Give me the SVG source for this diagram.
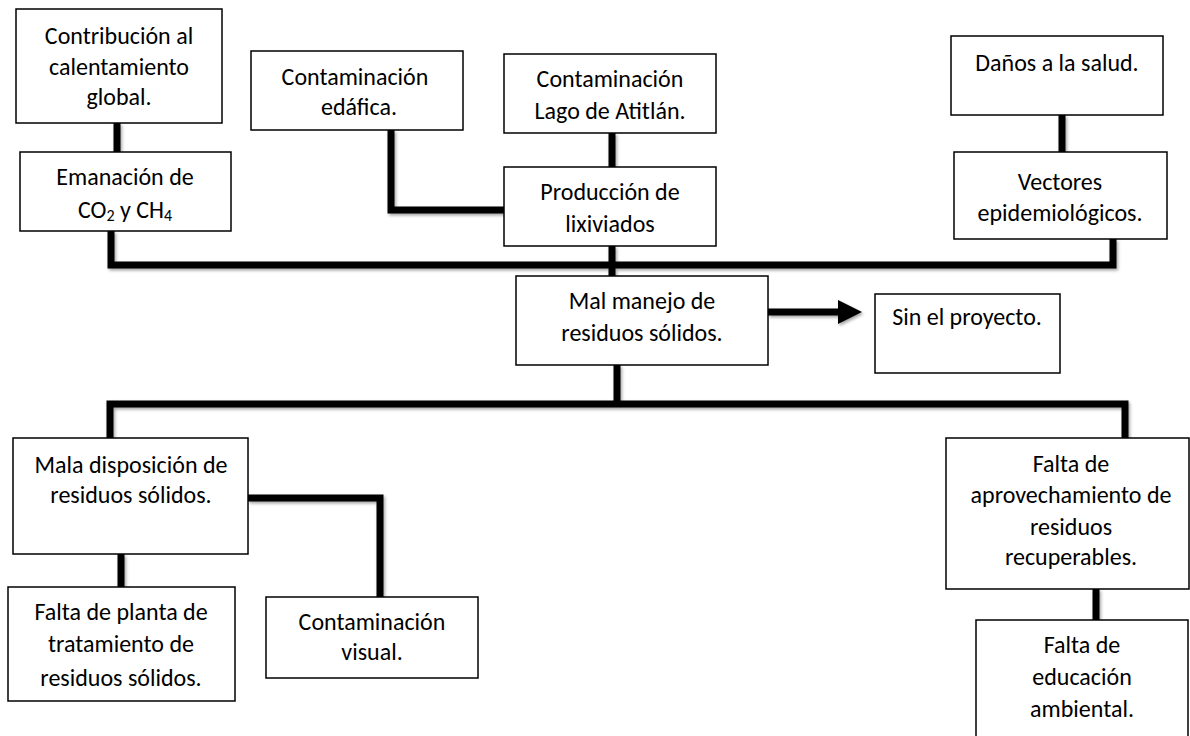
<svg xmlns="http://www.w3.org/2000/svg" width="1190" height="736" viewBox="0 0 1190 736">
<defs>
<filter id="sh" x="-5%" y="-20%" width="110%" height="140%">
<feDropShadow dx="1.5" dy="2" stdDeviation="1.5" flood-color="#000" flood-opacity="0.35"/>
</filter>
<style>
.box{fill:#fff;stroke:#000;stroke-width:1.5}
.t{font-family:Carlito,Calibri,Lato,"Liberation Sans",sans-serif;font-size:24px;fill:#000;text-anchor:middle}
.c{fill:none;stroke:#000;stroke-width:7;stroke-linejoin:miter;stroke-linecap:butt}
.sub{font-size:16px}
</style>
</defs>
<rect width="1190" height="736" fill="#fff"/>
<g id="connectors" filter="url(#sh)">
<path class="c" d="M117,123 V152"/>
<path class="c" d="M111,231 V265 H1113 V239"/>
<path class="c" d="M391,130 V210 H504"/>
<path class="c" d="M612,133 V167"/>
<path class="c" d="M612,246 V283"/>
<path class="c" d="M1062,115 V152"/>
<path class="c" d="M617,365 V404"/>
<path class="c" d="M110,438 V404 H1125 V438"/>
<path class="c" d="M248,498 H380 V598"/>
<path class="c" d="M121,554 V587"/>
<path class="c" d="M1096,589 V620"/>
<path class="c" d="M768,312 H840"/>
<polygon points="838,300 862,312 838,324" fill="#000"/>
</g>
<g id="n-contribucion"><rect class="box" x="16" y="9" width="206" height="114"/>
<text class="t" x="119" y="44">Contribución al</text><text class="t" x="119" y="75">calentamiento</text><text class="t" x="119" y="105">global.</text></g>
<g id="n-emanacion"><rect class="box" x="20" y="152" width="211" height="79"/>
<text class="t" x="125" y="185">Emanación de</text><text class="t" x="125" y="218">CO<tspan class="sub" dy="3">2</tspan><tspan dy="-3"> y CH</tspan><tspan class="sub" dy="3">4</tspan></text></g>
<g id="n-edafica"><rect class="box" x="251" y="51" width="212" height="79"/>
<text class="t" x="355" y="85">Contaminación</text><text class="t" x="359" y="115">edáfica.</text></g>
<g id="n-lago"><rect class="box" x="504" y="54" width="212" height="79"/>
<text class="t" x="610" y="87">Contaminación</text><text class="t" x="610" y="119">Lago de Atitlán.</text></g>
<g id="n-produccion"><rect class="box" x="504" y="167" width="212" height="79"/>
<text class="t" x="610" y="200">Producción de</text><text class="t" x="610" y="232">lixiviados</text></g>
<g id="n-danos"><rect class="box" x="951" y="36" width="212" height="79"/>
<text class="t" x="1057" y="71">Daños a la salud.</text></g>
<g id="n-vectores"><rect class="box" x="954" y="152" width="213" height="87"/>
<text class="t" x="1060" y="190">Vectores</text><text class="t" x="1060" y="221">epidemiológicos.</text></g>
<g id="n-malmanejo"><rect class="box" x="516" y="276" width="252" height="89"/>
<text class="t" x="642" y="309">Mal manejo de</text><text class="t" x="642" y="341">residuos sólidos.</text></g>
<g id="n-sinproyecto"><rect class="box" x="875" y="294" width="185" height="79"/>
<text class="t" x="967" y="325">Sin el proyecto.</text></g>
<g id="n-maladisposicion"><rect class="box" x="13" y="438" width="235" height="116"/>
<text class="t" x="131" y="473">Mala disposición de</text><text class="t" x="131" y="503">residuos sólidos.</text></g>
<g id="n-faltaplanta"><rect class="box" x="8" y="587" width="227" height="114"/>
<text class="t" x="121" y="620">Falta de planta de</text><text class="t" x="121" y="652">tratamiento de</text><text class="t" x="121" y="686">residuos sólidos.</text></g>
<g id="n-visual"><rect class="box" x="266" y="597" width="212" height="81"/>
<text class="t" x="372" y="630">Contaminación</text><text class="t" x="372" y="660">visual.</text></g>
<g id="n-aprovechamiento"><rect class="box" x="946" y="438" width="243" height="151"/>
<text class="t" x="1071" y="472">Falta de</text><text class="t" x="1071" y="503">aprovechamiento de</text><text class="t" x="1071" y="535">residuos</text><text class="t" x="1071" y="565">recuperables.</text></g>
<g id="n-educacion"><rect class="box" x="976" y="620" width="212" height="130"/>
<text class="t" x="1082" y="653">Falta de</text><text class="t" x="1082" y="685">educación</text><text class="t" x="1082" y="717">ambiental.</text></g>
</svg>
